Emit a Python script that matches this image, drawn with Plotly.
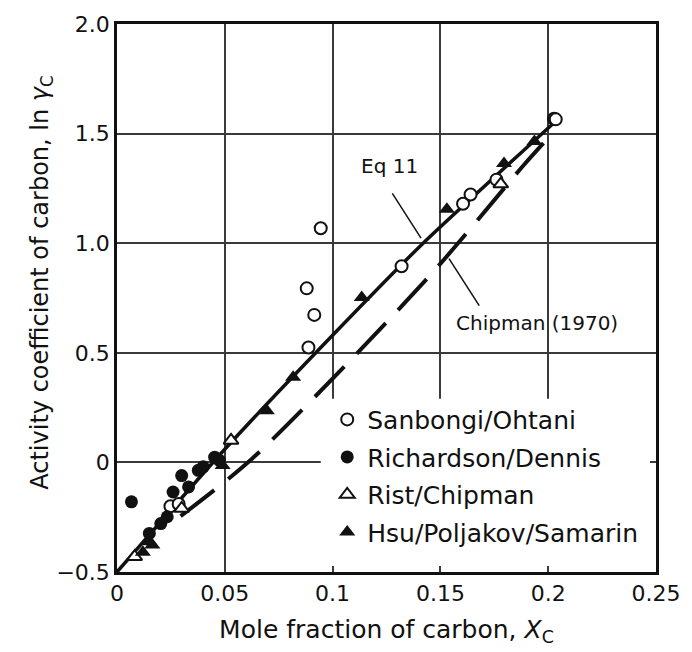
import plotly.graph_objects as go

# Measured activity coefficient data: mole fraction of carbon vs ln(gamma_C)
sanbongi_x = [0.0945, 0.088, 0.0915, 0.0888, 0.132, 0.1605, 0.164, 0.176, 0.0248, 0.0286, 0.2027, 0.2035]
sanbongi_y = [1.068, 0.794, 0.673, 0.524, 0.895, 1.18, 1.222, 1.29, -0.20, -0.19, 1.568, 1.565]

richardson_x = [0.0067, 0.030, 0.026, 0.0377, 0.040, 0.0453, 0.0475, 0.0203, 0.015, 0.0233, 0.0332]
richardson_y = [-0.18, -0.06, -0.135, -0.036, -0.02, 0.024, 0.009, -0.279, -0.324, -0.248, -0.112]

rist_x = [0.0529, 0.0082, 0.030, 0.178]
rist_y = [0.10, -0.43, -0.21, 1.27]

hsu_x = [0.049, 0.0695, 0.0817, 0.1135, 0.153, 0.1795, 0.1936, 0.015, 0.0164, 0.012]
hsu_y = [-0.014, 0.236, 0.388, 0.752, 1.155, 1.364, 1.464, -0.362, -0.377, -0.41]

# Eq 11 (solid) and Chipman (1970) (dashed) curves
eq11_x = [0.0, 0.05, 0.10, 0.142, 0.205]
eq11_y = [-0.5, 0.06, 0.58, 1.0, 1.57]

chipman_x = [0.0295, 0.063, 0.144, 0.189, 0.200]
chipman_y = [-0.245, 0.02, 0.84, 1.36, 1.48]

x_ticks = [0, 0.05, 0.1, 0.15, 0.2, 0.25]
x_tick_text = ["0", "0.05", "0.1", "0.15", "0.2", "0.25"]
y_ticks = [-0.5, 0, 0.5, 1.0, 1.5, 2.0]
y_tick_text = ["\u22120.5", "0", "0.5", "1.0", "1.5", "2.0"]

# Label anchors for the two curves (text position, leader start, leader end)
eq11_label = dict(text=(0.1263, 1.35), lead=((0.1277, 1.227), (0.1410, 1.023)))
chipman_label = dict(text=(0.1565, 0.636), lead=((0.1540, 0.930), (0.1680, 0.715)))

FONT = "DejaVu Sans"
INK = "#111111"

fig = go.Figure()

# White panel behind the legend, hiding the grid in the lower right
fig.add_shape(type="rect", xref="x", yref="y", x0=0.0945, x1=0.25, y0=-0.5, y1=0.29,
              fillcolor="white", line=dict(width=0), layer="between")

fig.add_trace(go.Scatter(
    x=eq11_x, y=eq11_y, mode="lines", showlegend=False,
    line=dict(color=INK, width=3.5, shape="spline", smoothing=0.6), hoverinfo="skip"))
fig.add_trace(go.Scatter(
    x=chipman_x, y=chipman_y, mode="lines", showlegend=False,
    line=dict(color=INK, width=4, dash="42px,18px", shape="spline", smoothing=0.8),
    hoverinfo="skip"))

fig.add_trace(go.Scatter(
    x=sanbongi_x, y=sanbongi_y, mode="markers", name="Sanbongi/Ohtani",
    legendgroup="a",
    marker=dict(symbol="circle", size=12, color="white",
                line=dict(color=INK, width=2))))
fig.add_trace(go.Scatter(
    x=richardson_x, y=richardson_y, mode="markers", name="Richardson/Dennis",
    legendgroup="b",
    marker=dict(symbol="circle", size=13, color=INK, line=dict(width=0))))
fig.add_trace(go.Scatter(
    x=rist_x, y=rist_y, mode="markers", name="Rist/Chipman",
    legendgroup="c",
    marker=dict(symbol="triangle-up", size=13, color="white",
                line=dict(color=INK, width=2))))
fig.add_trace(go.Scatter(
    x=hsu_x, y=hsu_y, mode="markers", name="Hsu/Poljakov/Samarin",
    legendgroup="d",
    marker=dict(symbol="triangle-up", size=14, color=INK, line=dict(width=0))))

axis_style = dict(showgrid=True, gridcolor="#3a3a3a", gridwidth=1.5,
                  showline=True, linecolor=INK, linewidth=2.5, mirror="ticks",
                  zeroline=False, ticks="inside", ticklen=6, tickwidth=1.5,
                  tickcolor="#3a3a3a",
                  tickfont=dict(family=FONT, size=22, color=INK))

fig.update_xaxes(range=[0, 0.25], tickvals=x_ticks, ticktext=x_tick_text,
                 title=dict(text="Mole fraction of carbon, <i>X</i><sub>C</sub>",
                            font=dict(family=FONT, size=25, color=INK), standoff=16),
                 **axis_style)
fig.update_yaxes(range=[-0.5, 2.0], tickvals=y_ticks, ticktext=y_tick_text,
                 **axis_style)

# Vertical axis title, placed as a rotated annotation
fig.add_annotation(x=-0.14, y=0.527, xref="paper", yref="paper",
                   text="Activity coefficient of carbon, ln <i>\u03b3</i><sub>C</sub>",
                   textangle=-90, showarrow=False, xanchor="center", yanchor="middle",
                   font=dict(family=FONT, size=24, color=INK))

# Curve labels with leader lines
for lab, txt, anchor in ((eq11_label, "Eq 11", "center"),
                         (chipman_label, "Chipman (1970)", "left")):
    (x0, y0), (x1, y1) = lab["lead"]
    fig.add_shape(type="line", xref="x", yref="y", x0=x0, y0=y0, x1=x1, y1=y1,
                  line=dict(color=INK, width=1.5))
    fig.add_annotation(x=lab["text"][0], y=lab["text"][1], xref="x", yref="y",
                       text=txt, xanchor=anchor, showarrow=False,
                       font=dict(family=FONT, size=20, color=INK))

fig.update_layout(
    width=692, height=652,
    margin=dict(l=117, r=25, t=22, b=80),
    paper_bgcolor="white", plot_bgcolor="white",
    font=dict(family=FONT, color=INK),
    legend=dict(x=0.39, y=0.32, xanchor="left", yanchor="top",
                bgcolor="rgba(0,0,0,0)", borderwidth=0, tracegroupgap=2,
                font=dict(family=FONT, size=25, color=INK)),
)

fig.write_html("out.html")
